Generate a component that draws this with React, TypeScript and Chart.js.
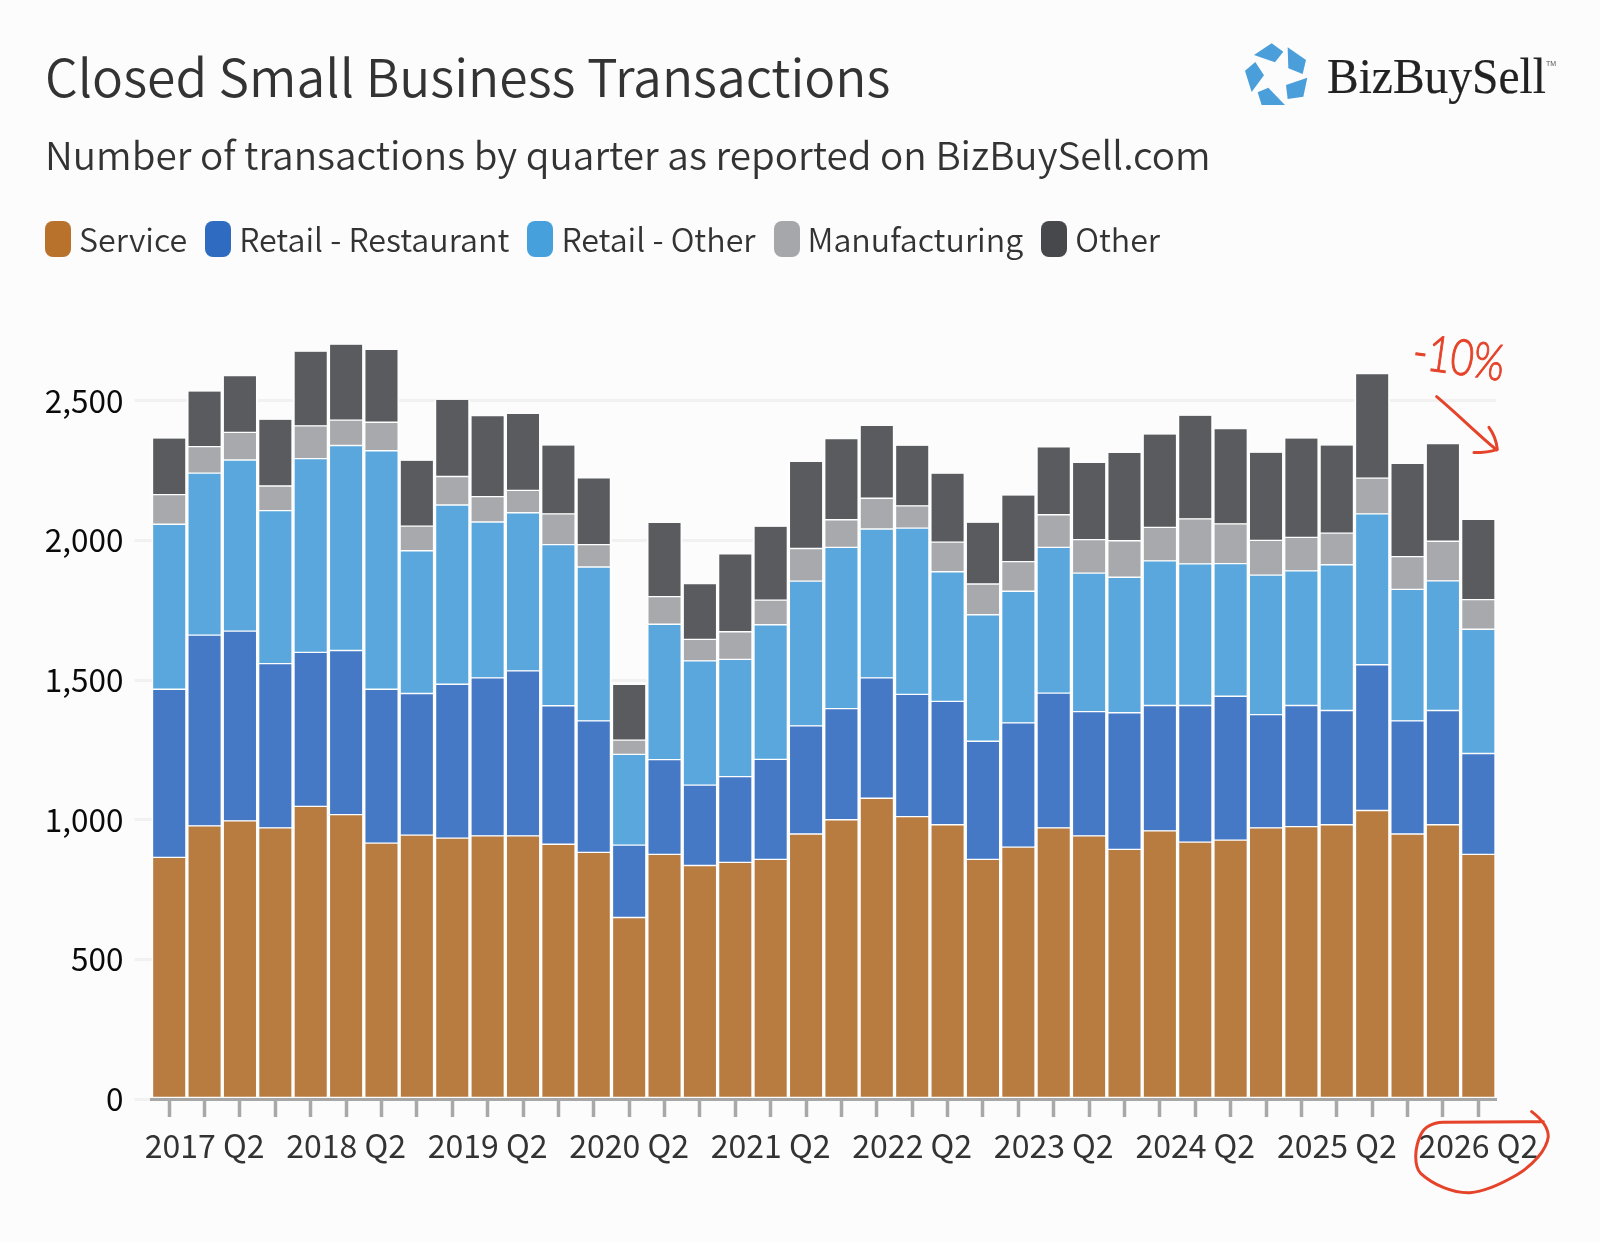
import React, { useEffect, useRef } from "react";
import { Chart, registerables } from "chart.js";

Chart.register(...registerables);

const FONT = '"Noto Sans CJK SC", "Noto Sans", sans-serif';

const quarters = [
  "2017 Q1", "2017 Q2", "2017 Q3", "2017 Q4",
  "2018 Q1", "2018 Q2", "2018 Q3", "2018 Q4",
  "2019 Q1", "2019 Q2", "2019 Q3", "2019 Q4",
  "2020 Q1", "2020 Q2", "2020 Q3", "2020 Q4",
  "2021 Q1", "2021 Q2", "2021 Q3", "2021 Q4",
  "2022 Q1", "2022 Q2", "2022 Q3", "2022 Q4",
  "2023 Q1", "2023 Q2", "2023 Q3", "2023 Q4",
  "2024 Q1", "2024 Q2", "2024 Q3", "2024 Q4",
  "2025 Q1", "2025 Q2", "2025 Q3", "2025 Q4",
  "2026 Q1", "2026 Q2",
];

const yTicks = [0, 500, 1000, 1500, 2000, 2500];

const service = [
  865, 978, 996, 971, 1048, 1018, 916, 945, 934, 942, 942, 912, 883, 650, 876, 836, 847, 858, 949,
  1000, 1077, 1011, 982, 858, 902, 971, 942, 894, 960, 920, 927, 971, 975, 982, 1033, 949, 982, 876,
];
const retailRestaurant = [
  602, 683, 679, 588, 551, 588, 551, 507, 551, 566, 591, 496, 471, 259, 339, 288, 307, 358, 387,
  398, 431, 438, 442, 423, 445, 482, 445, 489, 449, 489, 515, 405, 434, 409, 522, 405, 409, 361,
];
const retailOther = [
  591, 580, 613, 548, 694, 734, 854, 511, 642, 558, 566, 577, 551, 325, 485, 445, 420, 482, 518,
  577, 533, 595, 464, 453, 471, 522, 496, 485, 518, 507, 475, 500, 482, 522, 540, 471, 464, 445,
];
const manufacturing = [
  106, 95, 99, 88, 117, 91, 102, 88, 102, 91, 80, 110, 80, 51, 99, 77, 99, 88, 117,
  99, 110, 80, 106, 110, 106, 117, 120, 131, 120, 161, 142, 124, 120, 113, 128, 117, 142, 106,
];
const other = [
  201, 197, 201, 237, 266, 270, 259, 234, 274, 288, 274, 245, 237, 197, 263, 197, 277, 263, 310,
  288, 259, 215, 245, 219, 237, 241, 274, 314, 332, 369, 339, 314, 354, 314, 372, 332, 347, 285,
];

const series = [
  { name: "Service", values: service, bar: "#b87c40", swatch: "#b8722c" },
  { name: "Retail - Restaurant", values: retailRestaurant, bar: "#4579c5", swatch: "#2f6bc0" },
  { name: "Retail - Other", values: retailOther, bar: "#59a7dd", swatch: "#45a0dc" },
  { name: "Manufacturing", values: manufacturing, bar: "#a7a9ac", swatch: "#a5a7aa" },
  { name: "Other", values: other, bar: "#595b5f", swatch: "#46484c" },
];

const BG = "#fcfcfc";
const RED = "#e5432a";

export default function App() {
  const canvasRef = useRef<HTMLCanvasElement | null>(null);

  useEffect(() => {
    if (!canvasRef.current) return;
    const chart = new Chart(canvasRef.current, {
      type: "bar",
      data: {
        labels: quarters,
        datasets: series.map((s, i) => ({
          label: s.name,
          data: s.values,
          backgroundColor: s.bar,
          borderColor: "#fefefe",
          borderWidth: { top: i === series.length - 1 ? 0 : 1, bottom: 1, left: 2, right: 2 },
          borderSkipped: false,
          barPercentage: 1,
          categoryPercentage: 1,
        })),
      },
      options: {
        responsive: false,
        animation: false,
        devicePixelRatio: 1,
        layout: { padding: { top: 317, right: 104, left: 0, bottom: 0 } },
        plugins: { legend: { display: false }, tooltip: { enabled: false } },
        scales: {
          x: {
            stacked: true,
            afterFit: (scale) => {
              scale.height = 143;
            },
            grid: {
              offset: false,
              drawOnChartArea: false,
              tickColor: "#a8a8a8",
              tickWidth: 3.5,
              tickLength: 18,
              z: 1,
            },
            border: { color: "#a8a8a8", width: 3, z: 1 },
            ticks: {
              autoSkip: false,
              maxRotation: 0,
              padding: 10,
              color: "#333333",
              font: { family: FONT, size: 32 },
              callback: function (value) {
                const label = quarters[value as number];
                return label.endsWith("Q2") ? label : "";
              },
            },
          },
          y: {
            stacked: true,
            min: 0,
            max: 2800,
            afterFit: (scale) => {
              scale.width = 151.5;
            },
            afterBuildTicks: (scale) => {
              scale.ticks = yTicks.map((value) => ({ value }));
            },
            grid: { color: "#f1f1f1", lineWidth: 3, tickLength: 17 },
            border: { display: false },
            ticks: {
              padding: 11,
              color: "#0a0a0a",
              font: { family: FONT, size: 31.5 },
              callback: (value) => Number(value).toLocaleString("en-US"),
            },
          },
        },
      },
    });
    return () => {
      chart.destroy();
    };
  }, []);

  return (
    <div
      style={{
        position: "absolute",
        left: 0,
        top: 0,
        width: 1600,
        height: 1242,
        background: BG,
        overflow: "hidden",
        fontFamily: FONT,
        color: "#333",
      }}
    >
      <canvas ref={canvasRef} width={1600} height={1242} style={{ position: "absolute", left: 0, top: 0 }} />
      <div style={{ position: "absolute", left: 45, top: 35, fontSize: 51.6, lineHeight: "80px", fontWeight: 350, whiteSpace: "nowrap" }}>
        Closed Small Business Transactions
      </div>
      <div style={{ position: "absolute", left: 45, top: 123, fontSize: 38.7, lineHeight: "60px", fontWeight: 350, whiteSpace: "nowrap" }}>
        Number of transactions by quarter as reported on BizBuySell.com
      </div>
      <div style={{ position: "absolute", left: 45, top: 221, height: 36, display: "flex", alignItems: "center" }}>
        {series.map((s) => (
          <div key={s.name} style={{ display: "flex", alignItems: "center", marginRight: 18 }}>
            <span style={{ width: 26, height: 36, borderRadius: 8, background: s.swatch, marginRight: 8 }} />
            <span style={{ position: "relative", top: -1, fontSize: 32.2, lineHeight: "36px", fontWeight: 350, whiteSpace: "nowrap" }}>{s.name}</span>
          </div>
        ))}
      </div>
      <svg width={1600} height={1242} viewBox="0 0 1600 1242" style={{ position: "absolute", left: 0, top: 0 }}>
        {/* logo */}
        <g transform="translate(1150,0) scale(0.3333)" fill="#4a9fdb">
          <polygon points="365,130 400,155 375,187 312,165" />
          <polygon points="413,142 468,180 458,222 415,205" />
          <polygon points="472,233 460,290 413,297 408,255" />
          <polygon points="355,263 405,315 335,315 323,277" />
          <polygon points="316,186 342,226 305,276 285,212" />
        </g>
        <text x={1327} y={93} fontFamily='"Liberation Serif", serif' fontSize={50} fill="#222" stroke="#222" strokeWidth={0.2} textLength={219} lengthAdjust="spacingAndGlyphs">
          BizBuySell
        </text>
        <text x={1546} y={66} fontFamily='"Liberation Sans", sans-serif' fontSize={7} fill="#555">
          TM
        </text>
        {/* hand drawn notes */}
        <text
          x={1411}
          y={368}
          transform="rotate(8 1411 368)"
          fontFamily='"Lato", sans-serif'
          fontWeight={300}
          fontSize={50}
          fill={RED}
          stroke={RED}
          strokeWidth={1}
          textLength={92}
          lengthAdjust="spacingAndGlyphs"
        >
          -10%
        </text>
        <g transform="translate(1150,0) scale(0.3333)" fill="none" stroke={RED} strokeWidth={9} strokeLinecap="round" strokeLinejoin="round">
          <path d="M860 1190 C 920 1240, 980 1300, 1040 1350" />
          <path d="M1017 1282 C 1030 1300, 1040 1325, 1042 1348 C 1020 1356, 995 1358, 972 1358" />
        </g>
        <g transform="translate(1150,1000) scale(0.3333)" fill="none" stroke={RED} strokeWidth={9} strokeLinecap="round" strokeLinejoin="round">
          <path d="M1145 335 C 1165 350, 1195 375, 1195 410 C 1190 450, 1150 495, 1100 525 C 1060 548, 1010 575, 960 578 C 910 580, 850 555, 812 520 C 790 495, 795 440, 812 405 C 825 378, 850 368, 880 367 L 1180 365" />
        </g>
      </svg>
    </div>
  );
}
